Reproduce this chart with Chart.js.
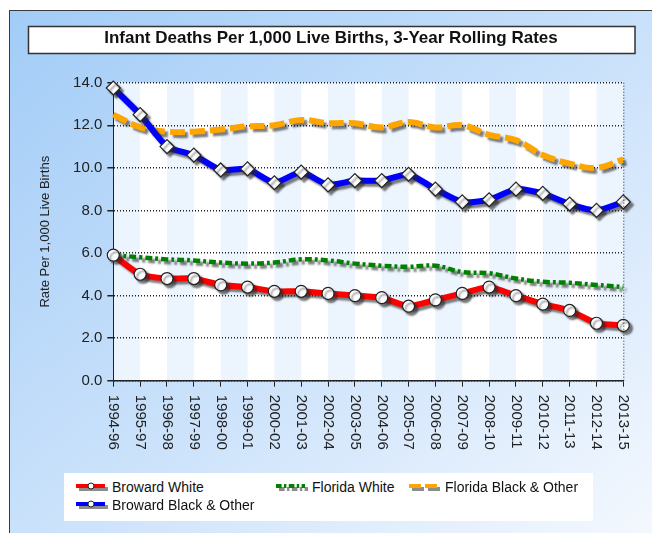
<!DOCTYPE html>
<html>
<head>
<meta charset="utf-8">
<title>Infant Deaths Per 1,000 Live Births</title>
<script src="https://cdn.jsdelivr.net/npm/chart.js@4.4.1/dist/chart.umd.min.js"></script>
<style>
    body { margin: 0; background: #fff; font-family: 'Liberation Sans', Arial, sans-serif; }
    #panel {
        position: absolute; left: 9px; top: 10px; width: 643px; height: 523px;
        border-left: 1px solid #3a3a3a; border-top: 1px solid #3a3a3a;
        background: linear-gradient(to bottom right, #a2ccf7 0%, #cde3fb 55%, #f4f8fe 100%);
    }
    #chart { position: absolute; left: 0; top: 0; }
    #legend {
        position: absolute; left: 54px; top: 462px; width: 529px; height: 48px;
        background: #fff; box-sizing: border-box; padding: 5px 0 0 12px;
        display: grid; grid-template-columns: 200px 133px auto; grid-auto-rows: 17.7px;
        font-size: 14px; color: #111;
    }
    .item { display: flex; align-items: center; white-space: nowrap; }
    .item canvas { margin-right: 4px; }
</style>
</head>
<body>
<div id="panel">
    <canvas id="chart" width="642" height="522"></canvas>
    <div id="legend"></div>
</div>
<script>
// Data
const periods = ['1994-96', '1995-97', '1996-98', '1997-99', '1998-00', '1999-01', '2000-02',
    '2001-03', '2002-04', '2003-05', '2004-06', '2005-07', '2006-08', '2007-09', '2008-10',
    '2009-11', '2010-12', '2011-13', '2012-14', '2013-15'];
const browardWhite = [5.9, 5.0, 4.8, 4.8, 4.5, 4.4, 4.2, 4.2, 4.1, 4.0, 3.9, 3.5, 3.8, 4.1, 4.4, 4.0, 3.6, 3.3, 2.7, 2.6];
const floridaWhite = [5.9, 5.8, 5.7, 5.65, 5.55, 5.5, 5.55, 5.7, 5.65, 5.5, 5.4, 5.35, 5.4, 5.1, 5.05, 4.8, 4.65, 4.6, 4.5, 4.4];
const floridaBlack = [12.5, 11.9, 11.7, 11.7, 11.8, 11.95, 12.0, 12.25, 12.1, 12.1, 11.9, 12.15, 11.9, 12.0, 11.55, 11.3, 10.6, 10.2, 10.0, 10.4];
const browardBlack = [13.75, 12.5, 11.0, 10.6, 9.9, 9.95, 9.3, 9.8, 9.2, 9.4, 9.4, 9.7, 9.0, 8.4, 8.5, 9.0, 8.8, 8.3, 8.0, 8.4];
const yTicks = [0, 2, 4, 6, 8, 10, 12, 14];

const FONT = "'Liberation Sans', Arial, sans-serif";
Chart.defaults.font.family = FONT;

// Series in legend order
const series = [
    { label: 'Broward White', data: browardWhite, color: '#ff0000', width: 6, dash: [], point: 'circle', tension: 0.2, order: 0 },
    { label: 'Florida White', data: floridaWhite, color: '#008000', width: 4.5, dash: [7, 3, 3, 3], point: false, tension: 0.4, order: 1 },
    { label: 'Florida Black & Other', data: floridaBlack, color: '#ffa500', width: 6, dash: [15, 5], point: false, tension: 0.4, order: 1 },
    { label: 'Broward Black & Other', data: browardBlack, color: '#0000ff', width: 6, dash: [], point: 'rectRot', tension: 0.2, order: 0 }
];

const datasets = series.map(s => ({
    label: s.label,
    data: s.data,
    borderColor: s.color,
    borderWidth: s.width,
    borderDash: s.dash,
    tension: s.tension,
    order: s.order,
    clip: false,
    pointStyle: s.point || 'circle',
    pointRadius: s.point ? (s.point === 'rectRot' ? 7 : 6) : 0,
    pointBackgroundColor: '#fff',
    pointBorderColor: '#222',
    pointBorderWidth: 1.2,
    fill: false
}));

// Drop shadow under lines and markers
const shadowPlugin = {
    id: 'shadow',
    beforeDatasetDraw(chart) {
        const ctx = chart.ctx;
        ctx.save();
        ctx.shadowColor = 'rgba(40, 40, 40, 0.6)';
        ctx.shadowOffsetX = 3;
        ctx.shadowOffsetY = 3;
        ctx.shadowBlur = 2;
    },
    afterDatasetDraw(chart) {
        chart.ctx.restore();
    }
};

// Plot background stripes and the boxed title
const backdropPlugin = {
    id: 'backdrop',
    beforeDraw(chart) {
        const { ctx, chartArea: a, scales: { x } } = chart;
        ctx.save();
        ctx.fillStyle = '#fff';
        ctx.strokeStyle = '#333';
        ctx.lineWidth = 1.5;
        ctx.fillRect(18.5, 15.5, 606.5, 27);
        ctx.strokeRect(18.5, 15.5, 606.5, 27);

        ctx.fillStyle = '#fff';
        ctx.fillRect(a.left, a.top, a.width, a.height);
        ctx.fillStyle = '#ecf4fe';
        for (let i = 0; i < periods.length - 1; i += 2) {
            const x0 = x.getPixelForTick(i);
            const x1 = x.getPixelForTick(i + 1);
            ctx.fillRect(x0, a.top, x1 - x0, a.height);
        }
        ctx.restore();
    },
    afterDraw(chart) {
        const { ctx, chartArea: a, scales: { x } } = chart;
        ctx.save();
        // dotted right edge
        ctx.strokeStyle = '#222';
        ctx.lineWidth = 1;
        ctx.setLineDash([1, 2]);
        ctx.beginPath();
        ctx.moveTo(a.right + 0.5, a.top);
        ctx.lineTo(a.right + 0.5, a.bottom);
        ctx.stroke();
        ctx.setLineDash([]);

        // x labels read top to bottom
        ctx.fillStyle = '#222';
        ctx.font = '15px ' + FONT;
        ctx.textAlign = 'left';
        ctx.textBaseline = 'middle';
        periods.forEach((p, i) => {
            ctx.save();
            ctx.translate(x.getPixelForTick(i), a.bottom + 14);
            ctx.rotate(Math.PI / 2);
            ctx.fillText(p, 0, 0);
            ctx.restore();
        });
        ctx.restore();
    }
};

new Chart(document.getElementById('chart'), {
    type: 'line',
    data: { labels: periods, datasets: datasets },
    options: {
        responsive: false,
        animation: false,
        devicePixelRatio: 1,
        layout: { padding: 0 },
        plugins: {
            legend: { display: false },
            tooltip: { enabled: false },
            title: {
                display: true,
                text: 'Infant Deaths Per 1,000 Live Births, 3-Year Rolling Rates',
                color: '#111',
                font: { size: 17, weight: 'bold' },
                padding: { top: 17.5, bottom: 33.8 }
            }
        },
        scales: {
            x: {
                offset: false,
                grid: { display: true, drawOnChartArea: false, drawTicks: true, tickLength: 6, color: '#222' },
                border: { display: true, color: '#222', width: 1.5 },
                ticks: { display: false },
                afterFit(scale) { scale.height = 152.3; }
            },
            y: {
                min: 0,
                max: 14,
                afterBuildTicks(scale) { scale.ticks = yTicks.map(v => ({ value: v })); },
                grid: { color: '#222', lineWidth: 1.5, drawTicks: true, tickLength: 6 },
                border: { display: true, color: '#222', width: 1, dash: [1, 2] },
                ticks: {
                    color: '#222',
                    font: { size: 15 },
                    padding: 5,
                    callback: v => Number(v).toFixed(1)
                },
                title: {
                    display: true,
                    text: 'Rate Per 1,000 Live Births',
                    color: '#222',
                    font: { size: 13 },
                    padding: { top: 27.2, bottom: 0 }
                },
                afterFit(scale) { scale.width = 103.3; }
            },
            // empty right gutter so the title stays centred on the whole panel
            gutter: {
                type: 'linear',
                position: 'right',
                display: true,
                grid: { display: false },
                border: { display: false },
                ticks: { display: false },
                afterFit(scale) { scale.width = 28.7; }
            }
        }
    },
    plugins: [backdropPlugin, shadowPlugin]
});

// Legend laid out in columns like the original
function drawSymbol(cv, s) {
    const c = cv.getContext('2d');
    c.lineWidth = 4;
    c.setLineDash(s.dash.length ? s.dash.map(d => d * 0.8) : []);
    c.strokeStyle = '#8c8c8c';
    c.beginPath(); c.moveTo(3, 8); c.lineTo(32, 8); c.stroke();
    c.strokeStyle = s.color;
    c.beginPath(); c.moveTo(0, 5); c.lineTo(29, 5); c.stroke();
    if (s.point) {
        c.setLineDash([]);
        c.lineWidth = 1;
        c.fillStyle = '#fff';
        c.strokeStyle = '#222';
        c.beginPath(); c.arc(15, 5, 3, 0, Math.PI * 2); c.fill(); c.stroke();
    }
}

const legend = document.getElementById('legend');
series.forEach(s => {
    const item = document.createElement('div');
    item.className = 'item';
    const cv = document.createElement('canvas');
    cv.width = 32;
    cv.height = 12;
    drawSymbol(cv, s);
    item.appendChild(cv);
    const span = document.createElement('span');
    span.textContent = s.label;
    item.appendChild(span);
    legend.appendChild(item);
});
</script>
</body>
</html>
